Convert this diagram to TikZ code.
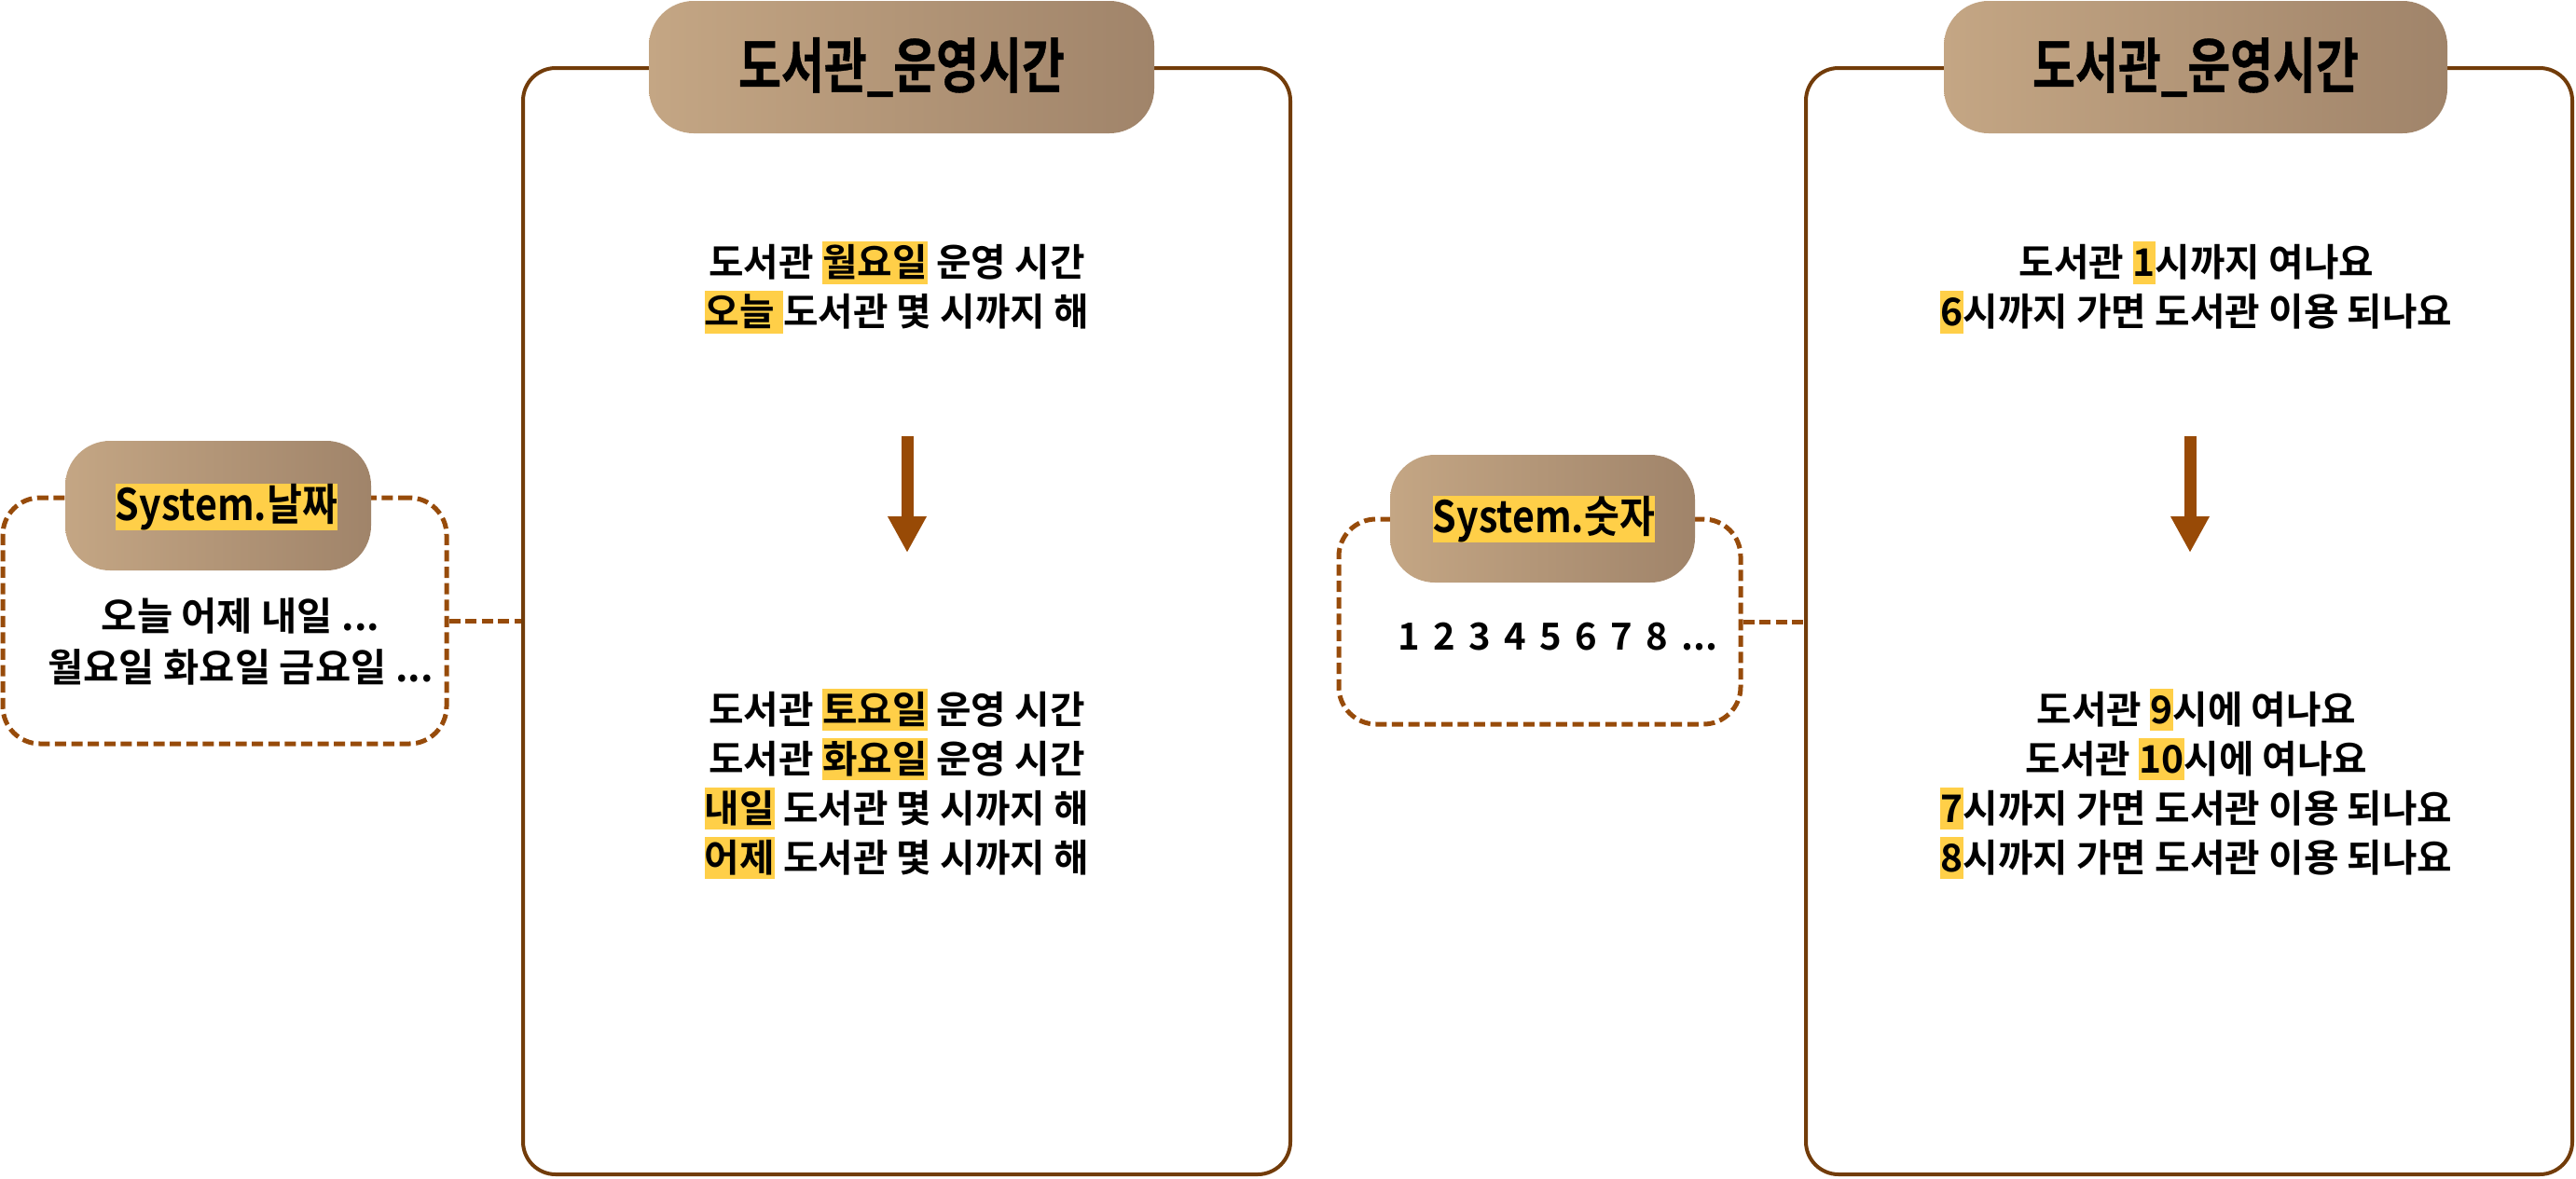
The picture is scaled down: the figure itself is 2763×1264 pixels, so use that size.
\documentclass[tikz,border=0pt]{standalone}
\usepackage{fontspec}
\usetikzlibrary{arrows.meta}
\newfontfamily\krfont{Noto Sans CJK KR}[BoldFont={* Bold}]
\newfontfamily\ttlfont{Noto Sans CJK KR}[BoldFont={* Bold},FakeStretch=0.78,FakeBold=0.6]
\newfontfamily\sysfont{Noto Sans CJK KR}[BoldFont={* Bold},FakeStretch=0.88]
\definecolor{hly}{HTML}{FFCF48}
\definecolor{boxc}{HTML}{723C0A}
\definecolor{dashc}{HTML}{974B0A}
\definecolor{arrc}{HTML}{984A06}
\definecolor{pillL}{HTML}{C4A684}
\definecolor{pillR}{HTML}{A0846A}
\newcommand\hl[1]{{\setlength\fboxsep{0pt}\colorbox{hly}{\rule[-2pt]{0pt}{11.4pt}#1}}}
\newcommand\hls[1]{{\setlength\fboxsep{0pt}\colorbox{hly}{\rule[-1.75pt]{0pt}{11.25pt}#1}}}
\begin{document}
\begin{tikzpicture}[x=0.25pt,y=-0.25pt,
  mainbox/.style={draw=boxc, line width=1pt, rounded corners=8.75pt, inner sep=0pt},
  dashbox/.style={draw=dashc, line width=1.25pt, dash pattern=on 3pt off 1.4pt, rounded corners=10pt, inner sep=0pt},
  pill/.style={left color=pillL, right color=pillR, rounded corners=12pt, inner sep=0pt},
  body/.style={font=\krfont\bfseries\fontsize{10.2pt}{13.25pt}\selectfont, align=center, inner sep=0pt},
  listtxt/.style={font=\krfont\bfseries\fontsize{10.4pt}{13.75pt}\selectfont, align=center, inner sep=0pt},
  ttl/.style={font=\ttlfont\bfseries\fontsize{16pt}{18pt}\selectfont},
  sys/.style={font=\sysfont\bfseries\fontsize{11.7pt}{13pt}\selectfont, inner sep=0pt},
  conn/.style={draw=dashc, line width=1.25pt, dash pattern=on 3pt off 1.4pt},
  downarrow/.style={draw=arrc, line width=3.25pt, -{Triangle[width=9.75pt,length=9.75pt]}}
]
\useasboundingbox (0,0) rectangle (2763,1264);
% main boxes
\node[mainbox, minimum width=205.75pt, minimum height=296.75pt] (box1) at (972.5,666.5) {};
\node[mainbox, minimum width=205.5pt, minimum height=296.75pt] (box2) at (2348,666.5) {};
% dashed boxes
\node[dashbox, minimum width=119pt, minimum height=66pt] (leftbox) at (241,666) {};
\node[dashbox, minimum width=107.75pt, minimum height=55pt] (midbox) at (1651.5,667) {};
% connectors
\draw[conn] (leftbox.east) -- (leftbox.east -| box1.west);
\draw[conn] (midbox.east) -- (midbox.east -| box2.west);
% title pills
\node[pill, minimum width=135.5pt, minimum height=35.5pt, ttl] (title1) at (967,72) {도서관\_운영시간};
\node[pill, minimum width=135pt, minimum height=35.5pt, ttl] (title2) at (2355,72) {도서관\_운영시간};
% system pills
\node[pill, minimum width=82pt, minimum height=34.75pt] (sys1) at (234,542.5) {};
\node[sys] (sys1t) at (243,544) {\hls{System.날짜}};
\node[pill, minimum width=81.75pt, minimum height=34.25pt] (sys2) at (1654.5,556.5) {};
\node[sys] (sys2t) at (1656,557) {\hls{System.숫자}};
% lists
\node[listtxt] (leftlist) at (258,688) {오늘 어제 내일 ...\\월요일 화요일 금요일 ...};
\node[font=\krfont\bfseries\fontsize{10pt}{12pt}\selectfont, inner sep=0pt] (numlist) at (1671,683) {\spaceskip=0.36em\relax 1 2 3 4 5 6 7 8 ...};
% left panel texts
\node[body] (q1a) at (962,308.5) {도서관 \hl{월요일} 운영 시간\\\hl{오늘\ }도서관 몇 시까지 해};
\node[body] (q1b) at (962,841) {도서관 \hl{토요일} 운영 시간\\도서관 \hl{화요일} 운영 시간\\\hl{내일} 도서관 몇 시까지 해\\\hl{어제} 도서관 몇 시까지 해};
% right panel texts
\node[body] (q2a) at (2356,308.5) {도서관 \hl{1}시까지 여나요\\\hl{6}시까지 가면 도서관 이용 되나요};
\node[body] (q2b) at (2356,841) {도서관 \hl{9}시에 여나요\\도서관 \hl{10}시에 여나요\\\hl{7}시까지 가면 도서관 이용 되나요\\\hl{8}시까지 가면 도서관 이용 되나요};
% arrows
\coordinate (a1s) at (973,468);
\coordinate (a1e) at (973,593);
\coordinate (a2s) at (2349,468);
\coordinate (a2e) at (2349,593);
\draw[downarrow] (a1s) -- (a1e);
\draw[downarrow] (a2s) -- (a2e);
\end{tikzpicture}
\end{document}
